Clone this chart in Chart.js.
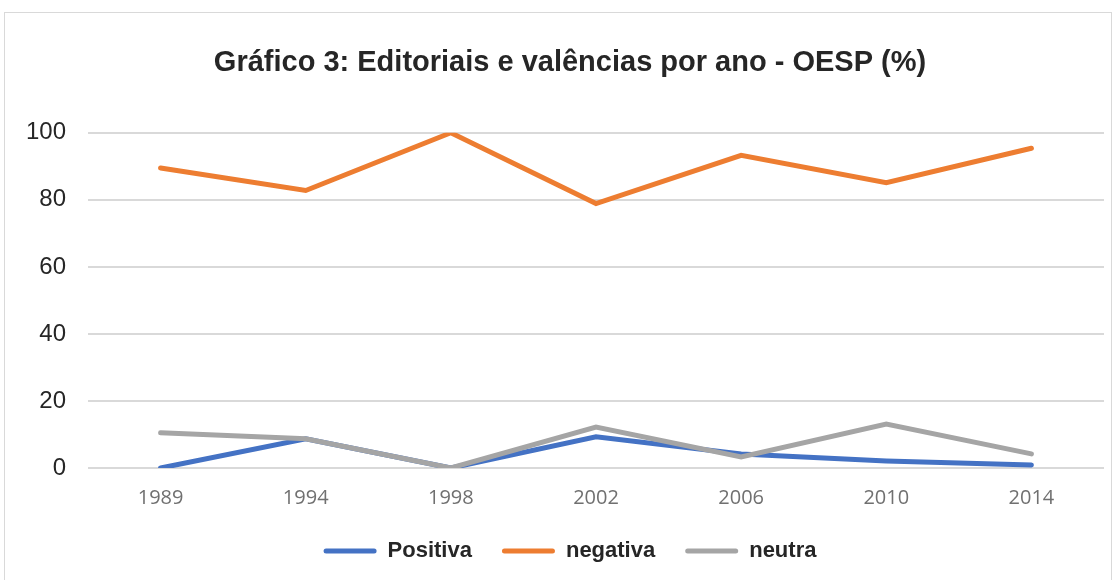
<!DOCTYPE html>
<html>
<head>
<meta charset="utf-8">
<script src="https://cdn.jsdelivr.net/npm/chart.js@4/dist/chart.umd.min.js"></script>
<style>
  html, body { margin: 0; padding: 0; background: #fff; }
  #wrap { position: relative; width: 1116px; height: 580px; }
  #frame { position: absolute; left: 4px; top: 12px; width: 1108px; height: 580px; border: 1px solid #d9d9d9; box-sizing: border-box; }
  canvas { position: absolute; left: 0; top: 0; }
</style>
</head>
<body>
<div id="wrap">
  <div id="frame"></div>
  <canvas id="chart" width="1116" height="580"></canvas>
</div>
<script>
// ===== DATA =====
const years = ["1989", "1994", "1998", "2002", "2006", "2010", "2014"];
const positiva = [0, 8.7, 0, 9.3, 4.2, 2.1, 0.9];
const negativa = [89.5, 82.8, 100, 78.9, 93.3, 85.1, 95.4];
const neutra = [10.5, 8.7, 0, 12.2, 3.3, 13.1, 4.2];
const yTicks = [0, 20, 40, 60, 80, 100];

const baseFont = "'Liberation Sans', Arial, sans-serif";

function line(label, data, color, order) {
  return {
    label: label,
    data: data,
    borderColor: color,
    backgroundColor: color,
    borderWidth: 5,
    pointRadius: 0,
    borderCapStyle: "round",
    borderJoinStyle: "miter",
    tension: 0,
    order: order
  };
}

// legend sits closer to the year labels than chart.js would put it
const legendLift = {
  id: "legendLift",
  afterLayout(chart) {
    chart.legend.top -= 18;
    chart.legend.bottom -= 18;
  }
};

const ctx = document.getElementById("chart").getContext("2d");
new Chart(ctx, {
  type: "line",
  data: {
    labels: years,
    datasets: [
      line("Positiva", positiva, "#4472C4", 3),
      line("negativa", negativa, "#ED7D31", 2),
      line("neutra", neutra, "#A5A5A5", 1)
    ]
  },
  plugins: [legendLift],
  options: {
    responsive: false,
    animation: false,
    layout: { padding: { left: 24, right: 0, top: 0, bottom: -10 } },
    plugins: {
      title: {
        display: true,
        text: "Gráfico 3: Editoriais e valências por ano - OESP (%)",
        color: "#262626",
        font: { family: baseFont, size: 29, weight: "bold" },
        padding: { top: 46, bottom: 52 }
      },
      legend: {
        position: "bottom",
        labels: {
          boxWidth: 53,
          boxHeight: 5,
          useBorderRadius: true,
          borderRadius: 2.5,
          padding: 30,
          color: "#262626",
          font: { family: baseFont, size: 22, weight: "bold" },
          generateLabels: chart => Chart.defaults.plugins.legend.labels.generateLabels(chart)
            .map(item => Object.assign(item, { lineWidth: 0 })),
          sort: (a, b) => a.datasetIndex - b.datasetIndex
        }
      },
      tooltip: { enabled: false }
    },
    scales: {
      x: {
        offset: true,
        grid: { display: false, drawTicks: false },
        border: { display: false },
        ticks: {
          color: "#707070",
          padding: 18,
          font: { family: "'Open Sans', sans-serif", size: 20 }
        }
      },
      y: {
        min: 0,
        max: 100,
        afterBuildTicks: axis => { axis.ticks = yTicks.map(v => ({ value: v })); },
        afterFit: axis => { axis.width = 64; },
        grid: { color: "#d9d9d9", lineWidth: 2, drawTicks: false },
        border: { display: false },
        ticks: {
          color: "#262626",
          padding: 22,
          font: { family: baseFont, size: 24 }
        }
      },
      // empty spacer on the right so the title and legend sit where the original has them
      y2: {
        position: "right",
        grid: { display: false, drawTicks: false },
        border: { display: false },
        ticks: { display: false },
        afterFit: axis => { axis.width = 12; }
      }
    }
  }
});
</script>
</body>
</html>
